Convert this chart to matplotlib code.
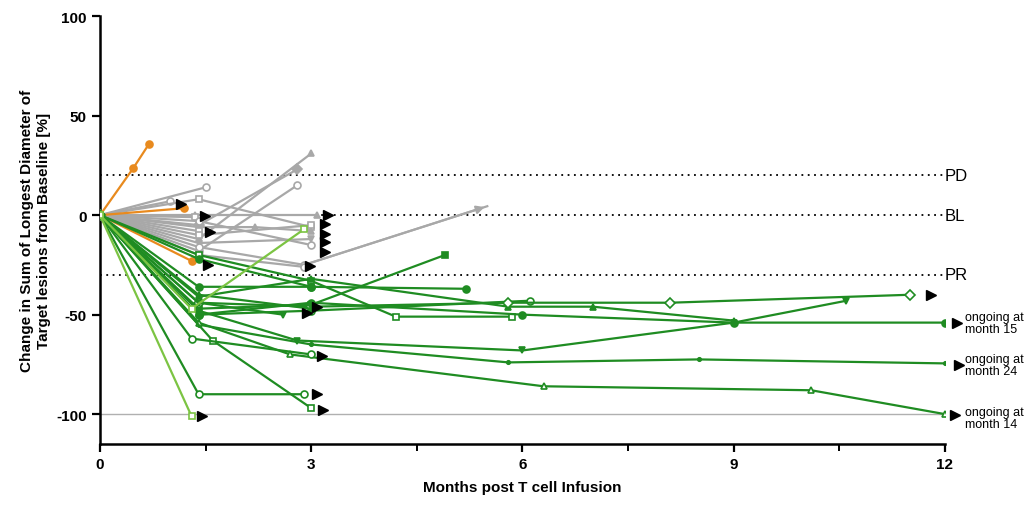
import matplotlib
matplotlib.use("Agg")
import matplotlib.pyplot as plt
from matplotlib.ticker import MultipleLocator

plt.rcParams['font.family'] = ['Liberation Sans', 'DejaVu Sans']
plt.rcParams['axes.unicode_minus'] = False

# patient trajectories: months after infusion vs change in SLD (%)
orange_months = [[0, 0.47, 0.7], [0, 1.2], [0, 1.3]]
orange_change = [[0, 23.5, 36], [0, 3.5], [0, -23]]
orange_markers = ['o', 'o', 'o']

grey_months = [
    [0, 1.5], [0, 1.0], [0, 1.4, 3.0], [0, 1.4, 3.0], [0, 1.4, 2.8],
    [0, 1.4, 2.8], [0, 1.35, 3.08], [0, 1.35], [0, 1.4, 2.2, 3.0],
    [0, 1.4], [0, 1.4, 3.0], [0, 1.4, 3.0], [0, 1.4, 2.9, 5.5],
    [0, 1.4, 3.0], [0, 1.4, 2.9],
]
grey_change = [
    [0, 14], [0, 7], [0, 8, -6], [0, -12, 31], [0, -5, 23],
    [0, -18, 15], [0, 0, 0], [0, -1], [0, -6, -6, -8],
    [0, -8], [0, -3, -15], [0, -14, -12], [0, -16, -25, 4.5],
    [0, -10, -5], [0, -20, -26],
]
grey_markers = ['o', 'o', 's', '^', 'D', 'o', '^', 's', '^',
                's', 'o', 'v', 'o', 's', 'o']

green_months = [
    [0, 1.4, 3.0, 4.2, 5.85], [0, 1.4, 3.0, 4.9], [0, 1.4, 3.0, 5.2],
    [0, 1.4, 3.0, 6.1], [0, 1.4, 3.0, 5.8, 7.0, 9.0],
    [0, 1.4, 3.0, 5.8, 8.1, 11.5], [0, 1.4, 2.8, 6.0, 9.0, 10.6],
    [0, 1.4, 3.0, 6.0, 9.0, 12], [0, 1.4, 3.0, 5.8, 8.5, 12],
    [0, 1.4, 2.7, 6.3, 10.1, 12], [0, 1.4, 2.9], [0, 1.6, 3.0],
    [0, 1.3, 3.0], [0, 1.4, 2.6], [0, 1.4, 3.0], [0, 1.4, 3.0],
]
green_change = [
    [0, -20, -33, -51, -51], [0, -47, -45, -20], [0, -36, -36, -37],
    [0, -50, -48, -43], [0, -41, -32, -46, -46, -53],
    [0, -44, -46, -44, -44, -40], [0, -48, -63, -68, -54, -43],
    [0, -50, -44, -50, -54, -54], [0, -55, -65, -74, -72.5, -74.5],
    [0, -54, -70, -86, -88, -100], [0, -90, -90], [0, -63, -97],
    [0, -62, -70], [0, -44, -50], [0, -22, -36], [0, -40, -47],
]
green_markers = ['s', 's', 'o', 'o', '^', 'D', 'v', 'o', '.', '^',
                 'o', 's', 'o', 'v', 'o', '^']
green_open = [True, False, False, True, False, True, False, False, False,
              True, True, True, True, False, False, False]

light_months = [[0, 1.3, 2.9], [0, 1.3]]
light_change = [[0, -47, -7], [0, -101]]

# ongoing-response arrowheads
arrow_months = [1.15, 1.49, 1.56, 1.53, 3.24, 3.2, 3.2, 3.2, 3.2, 2.98,
                3.08, 2.94, 3.15, 3.08, 3.17, 1.45,
                11.8, 12.17, 12.2, 12.14]
arrow_change = [5.5, -0.5, -8.5, -25, 0, -4.5, -9.5, -13.6, -18.6, -25.6,
                -46, -49, -71, -90, -98, -101,
                -40, -54, -75.5, -100.5]

ref_levels = [20, 0, -30]
ref_labels = ['PD', 'BL', 'PR']

ongoing_change = [-54, -75.5, -102]
ongoing_labels = ['ongoing at\nmonth 15', 'ongoing at\nmonth 24', 'ongoing at\nmonth 14']

GREY = '#a8a8a8'
ORANGE = '#e88a1e'
GREEN = '#1f8c22'
LIGHT = '#7cc443'

fig = plt.figure(figsize=(10.33, 5.06), dpi=100)
ax = fig.add_axes([0.0968, 0.1206, 0.818, 0.8454])

for lvl, lab in zip(ref_levels, ref_labels):
    ax.plot([0, 12], [lvl, lvl], ls=(0, (1, 2.5)), color='black', lw=1.3, zorder=1)
    ax.text(12.0, lvl, lab, fontsize=12, va='center', ha='left', clip_on=False)
ax.plot([0, 12], [-100, -100], color='#b0b0b0', lw=1, zorder=1)


def draw(xs, ys, color, marker, hollow, lw=1.6, markevery=None):
    ax.plot(xs, ys, color=color, lw=lw, marker=marker, ms=5, markevery=markevery,
            mfc='white' if hollow else color, mec=color, mew=1.2, zorder=3)


for i, (xs, ys, m) in enumerate(zip(grey_months, grey_change, grey_markers)):
    # the line leaving the cluster carries no marker at its arrow tip
    every = list(range(len(xs) - 1)) if i == 12 else None
    draw(xs, ys, GREY, m, m in ('o', 's'), markevery=every)
ax.annotate('', xy=(grey_months[12][-1], grey_change[12][-1]),
            xytext=(grey_months[12][-2], grey_change[12][-2]),
            arrowprops=dict(arrowstyle='-|>', color=GREY, lw=1.5, mutation_scale=12),
            zorder=3)
for xs, ys, m in zip(orange_months, orange_change, orange_markers):
    draw(xs, ys, ORANGE, m, False)
for xs, ys, m, o in zip(green_months, green_change, green_markers, green_open):
    draw(xs, ys, GREEN, m, o)
for xs, ys in zip(light_months, light_change):
    draw(xs, ys, LIGHT, 's', True)

ax.plot(arrow_months, arrow_change, ls='none', marker='>', color='black',
        ms=7, zorder=4, clip_on=False)

for yv, lab in zip(ongoing_change, ongoing_labels):
    ax.text(12.28, yv, lab, fontsize=9, va='center', ha='left',
            linespacing=1.0, clip_on=False)

ax.set_xlim(0, 12)
ax.set_ylim(-115, 100)
ax.xaxis.set_major_locator(MultipleLocator(3))
ax.xaxis.set_minor_locator(MultipleLocator(1.5))
ax.yaxis.set_major_locator(MultipleLocator(50))
for s in ('top', 'right'):
    ax.spines[s].set_visible(False)
for s in ('left', 'bottom'):
    ax.spines[s].set_linewidth(1.8)
ax.tick_params(which='major', length=6, width=1.6, labelsize=11)
ax.tick_params(which='minor', length=5, width=1.4)
for t in ax.get_xticklabels() + ax.get_yticklabels():
    t.set_fontweight('bold')

ax.set_xlabel('Months post T cell Infusion', fontsize=11, fontweight='bold', labelpad=6)
ax.set_ylabel('Change in Sum of Longest Diameter of\nTarget lesions from Baseline [%]',
              fontsize=11, fontweight='bold', labelpad=4)

fig.savefig('out.png', dpi=100)
